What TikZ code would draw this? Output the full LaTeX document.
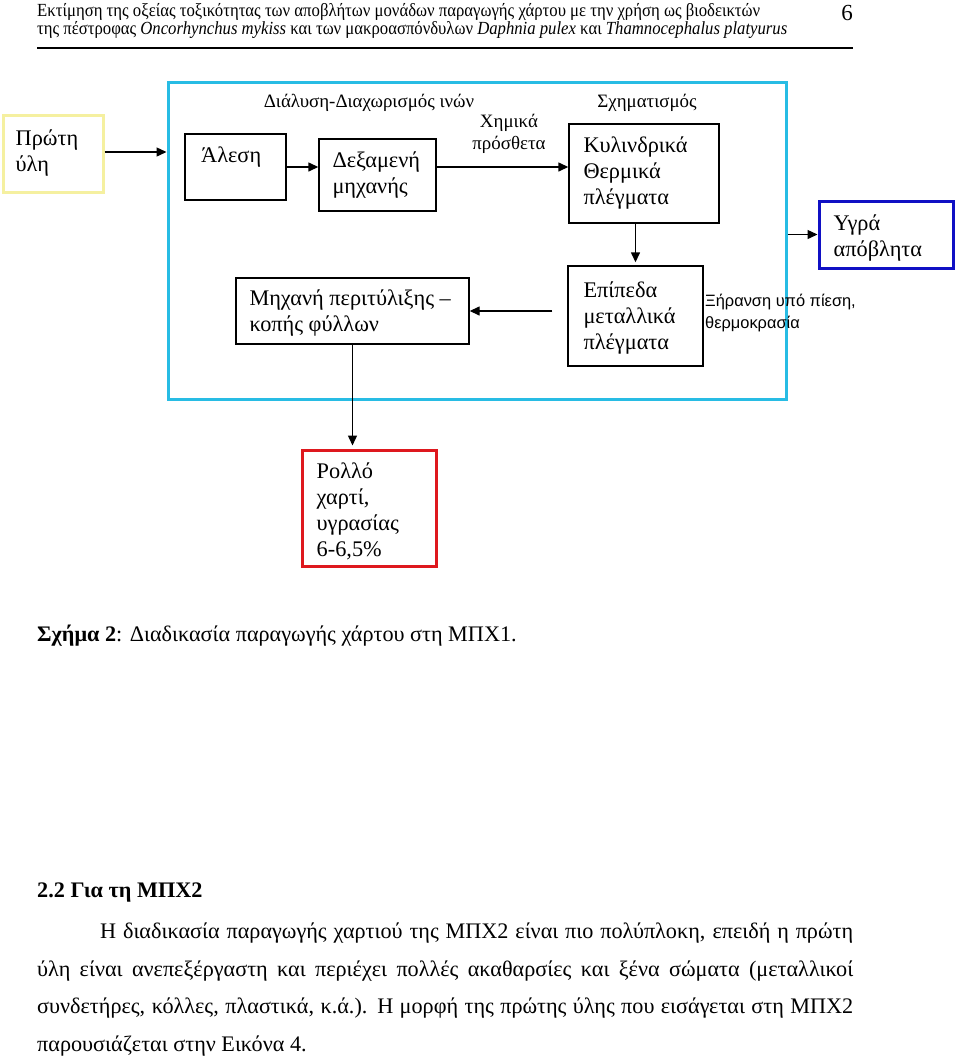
\documentclass[tikz,border=0pt]{standalone}
\usepackage{fontspec}
\setmainfont{Liberation Serif}
\newfontfamily\sansgr{Liberation Sans}
\usepackage{graphicx}
\usetikzlibrary{arrows.meta}
\definecolor{cyanbox}{RGB}{40,188,228}
\definecolor{yellowbox}{RGB}{245,240,160}
\definecolor{redbox}{RGB}{222,24,30}
\definecolor{bluebox}{RGB}{16,16,196}
\begin{document}
\begin{tikzpicture}[x=1pt,y=-1pt,
  box/.style={draw=black, line width=1.4pt, inner sep=0pt},
  thickbox/.style={line width=3pt, inner sep=0pt},
  arr/.style={-{Triangle[length=10pt,width=9pt]}, line width=1.4pt},
  bt/.style={font=\fontsize{22.3}{26}\selectfont, align=left, anchor=west, inner sep=0pt},
  st/.style={font=\fontsize{18.9}{22}\selectfont, inner sep=0pt},
  body/.style={font=\fontsize{22.2}{26}\selectfont, anchor=west, inner sep=0pt},
  hd/.style={font=\fontsize{18.5}{20}\selectfont, anchor=west, inner sep=0pt}
]
\useasboundingbox[fill=white] (0,0) rectangle (960,1058);

% header
\node[hd] (h1) at (37,11.5) {\resizebox{723pt}{\height}{Εκτίμηση της οξείας τοξικότητας των αποβλήτων μονάδων παραγωγής χάρτου με την χρήση ως βιοδεικτών}};
\node[hd] (h2) at (37,29.5) {\resizebox{750pt}{\height}{της πέστροφας \textit{Oncorhynchus mykiss} και των μακροασπόνδυλων \textit{Daphnia pulex} και \textit{Thamnocephalus platyurus}}};
\node[font=\fontsize{23}{24}\selectfont, inner sep=0pt] (pg) at (847,13) {6};
\draw[line width=1.5pt] (37,48) -- (853,48);

% boxes
\node[thickbox, draw=cyanbox, minimum width=618, minimum height=317] (main) at (477,240.5) {};
\node[thickbox, draw=yellowbox, minimum width=100, minimum height=77] (prwti) at (53,153.5) {};
\node[bt] (prwtiT) at ([xshift=14pt]prwti.west) {Πρώτη\\ύλη};

\node[box, minimum width=101, minimum height=66] (alesi) at (235.5,167) {};
\node[bt] (alesiT) at (201,157) {Άλεση};

\node[box, minimum width=117, minimum height=72] (dex) at (377.5,175) {};
\node[bt] (dexT) at ([xshift=14pt]dex.west) {Δεξαμενή\\μηχανής};

\node[box, minimum width=150, minimum height=99] (kyl) at (644,173.5) {};
\node[bt] (kylT) at ([xshift=15pt]kyl.west) {Κυλινδρικά\\Θερμικά\\πλέγματα};

\node[box, minimum width=135, minimum height=100] (ep) at (635.5,316) {};
\node[bt] (epT) at ([xshift=16pt,yshift=-2pt]ep.west) {Επίπεδα\\μεταλλικά\\πλέγματα};

\node[box, minimum width=233, minimum height=66] (mix) at (352.5,311) {};
\node[bt] (mixT) at ([xshift=14pt,yshift=-2pt]mix.west) {Μηχανή περιτύλιξης –\\κοπής φύλλων};

\node[thickbox, draw=bluebox, minimum width=134, minimum height=67] (ygra) at (886,234.5) {};
\node[bt] (ygraT) at ([xshift=16pt,yshift=-4pt]ygra.west) {Υγρά\\απόβλητα};

\node[thickbox, draw=redbox, minimum width=134, minimum height=116] (rollo) at (369,508) {};
\node[bt] (rolloT) at ([xshift=16pt,yshift=-3pt]rollo.west) {Ρολλό\\χαρτί,\\υγρασίας\\6-6,5\%};

% labels
\node[st] (dial) at (369,103) {Διάλυση-Διαχωρισμός ινών};
\node[st] (sxim) at (647,103) {Σχηματισμός};
\node[st, align=center] (xim) at (509,134) {Χημικά\\πρόσθετα};
\node[font=\sansgr\fontsize{16.4}{22}\selectfont, align=left, anchor=west, inner sep=0pt] (xir) at (705,313) {Ξήρανση υπό πίεση,\\θερμοκρασία};

% connectors
\draw[arr] (prwti.east |- 0,152) -- (main.west |- 0,152);
\draw[arr] (alesi.east) -- (alesi.east -| dex.west);
\draw[arr] (dex.east |- alesi.east) -- (alesi.east -| kyl.west);
\draw[arr, shorten >=3pt] (ep.north |- kyl.south) -- (ep.north);
\coordinate (epL) at ([xshift=-15pt]ep.west |- mix.east);
\draw[arr] (epL) -- (mix.east);
\draw[arr, shorten >=3pt] (mix.south) -- (mix.south |- rollo.north);
\draw[arr] (main.east |- ygra.west) -- (ygra.west);

% caption
\node[body] (cap) at (37,636) {\textbf{Σχήμα 2}: Διαδικασία παραγωγής χάρτου στη ΜΠΧ1.};

% body text
\node[body] (sec) at (37,893) {\textbf{2.2 Για τη ΜΠΧ2}};
\node[body] (l1) at (100,933) {\makebox[753pt][s]{Η διαδικασία παραγωγής χαρτιού της ΜΠΧ2 είναι πιο πολύπλοκη, επειδή η πρώτη}};
\node[body] (l2) at (37,971) {\makebox[816pt][s]{ύλη είναι ανεπεξέργαστη και περιέχει πολλές ακαθαρσίες και ξένα σώματα (μεταλλικοί}};
\node[body] (l3) at (37,1008) {\makebox[816pt][s]{συνδετήρες, κόλλες, πλαστικά, κ.ά.). Η μορφή της πρώτης ύλης που εισάγεται στη ΜΠΧ2}};
\node[body] (l4) at (37,1046) {παρουσιάζεται στην Εικόνα 4.};
\end{tikzpicture}
\end{document}
